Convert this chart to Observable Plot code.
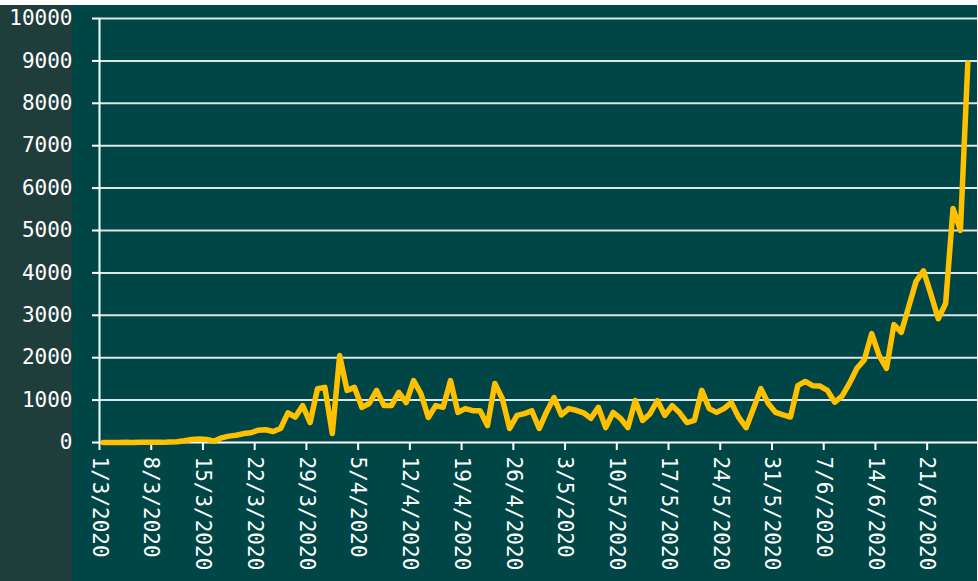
<!DOCTYPE html>
<html>
<head>
<meta charset="utf-8">
<script src="https://cdn.jsdelivr.net/npm/d3@7"></script>
<script src="https://cdn.jsdelivr.net/npm/@observablehq/plot@0.6"></script>
<style>
  html, body { margin: 0; padding: 0; background: #ffffff; }
  #wrap { position: relative; width: 978px; height: 581px; overflow: hidden; background: #ffffff; }
  #bg { position: absolute; left: 0; top: 5px; width: 977px; height: 576px;
        background: linear-gradient(to right, #1f3d3b 0px, #1f3d3b 72px, #004646 72px, #004646 977px); }
  #chart { position: absolute; left: 0; top: 0; }
</style>
</head>
<body>
<div id="wrap"><div id="bg"></div><div id="chart"></div></div>
<script>
// First day of the series (daily data)
const startDate = "2020-03-01";
// Daily new cases (1/3/2020 .. 26/6/2020)
const cases = [
  2, 0, 1, 4, 2, 5, 4, 6, 3, 10,
  20, 40, 70, 80, 70, 30, 110, 150, 170, 210,
  230, 290, 300, 260, 330, 700, 600, 870, 470, 1270,
  1300, 210, 2050, 1230, 1300, 830, 920, 1230, 870, 870,
  1180, 940, 1460, 1150, 590, 870, 830, 1460, 710, 800,
  750, 750, 400, 1390, 1040, 330, 640, 680, 750, 330,
  720, 1060, 650, 800, 760, 700, 570, 830, 350, 710,
  570, 350, 990, 520, 680, 990, 640, 870, 700, 470,
  520, 1230, 800, 710, 800, 940, 590, 350, 800, 1270,
  920, 710, 650, 600, 1340, 1440, 1340, 1330, 1230, 950,
  1100, 1400, 1750, 1950, 2570, 2050, 1750, 2780, 2600, 3200,
  3800, 4050, 3500, 2920, 3280, 5520, 5000, 8950
];
// X tick labels (weekly)
const xTickLabels = ["1/3/2020","8/3/2020","15/3/2020","22/3/2020","29/3/2020","5/4/2020","12/4/2020",
  "19/4/2020","26/4/2020","3/5/2020","10/5/2020","17/5/2020","24/5/2020","31/5/2020","7/6/2020",
  "14/6/2020","21/6/2020"];
// Y ticks
const yTicks = [0, 1000, 2000, 3000, 4000, 5000, 6000, 7000, 8000, 9000, 10000];

const parseDMY = s => { const [d, m, y] = s.split("/").map(Number); return new Date(Date.UTC(y, m - 1, d)); };
const fmtDMY = d => `${d.getUTCDate()}/${d.getUTCMonth() + 1}/${d.getUTCFullYear()}`;
const t0 = new Date(startDate + "T00:00:00Z");
// each day occupies a band; point drawn at its middle
const data = cases.map((v, i) => ({date: d3.utcHour.offset(d3.utcDay.offset(t0, i), 12), value: v}));
const xTicks = xTickLabels.map(parseDMY);
const xEnd = d3.utcDay.offset(t0, cases.length);

const font = "DejaVu Sans Mono";
const plot = Plot.plot({
  width: 978,
  height: 581,
  marginTop: 18,
  marginBottom: 139,
  marginLeft: 99,
  marginRight: 1,
  style: {background: "transparent", color: "#ffffff", fontFamily: font, fontSize: "21px", overflow: "visible"},
  x: {type: "utc", domain: [t0, xEnd], range: [99, 971]},
  y: {domain: [0, 10000]},
  marks: [
    Plot.ruleY(yTicks.filter(d => d > 0), {stroke: "#dde6e6", strokeWidth: 2}),
    Plot.axisY({ticks: yTicks, tickSize: 7, tickPadding: 20, tickFormat: d => String(d),
      stroke: "#ffffff", strokeWidth: 2, fill: "#ffffff", fontSize: 21, label: null}),
    Plot.axisX({ticks: xTicks, tickSize: 8, tickPadding: 6, tickRotate: 90, tickFormat: fmtDMY,
      stroke: "#ffffff", strokeWidth: 2, fill: "#ffffff", fontSize: 21, label: null}),
    Plot.ruleY([0], {stroke: "#ffffff", strokeWidth: 2}),
    Plot.ruleX([t0], {y1: 0, y2: 10000, stroke: "#ffffff", strokeWidth: 2}),
    Plot.line(data, {x: "date", y: "value", stroke: "#ffc000", strokeWidth: 5.5,
      strokeLinejoin: "round", strokeLinecap: "round"})
  ]
});
document.getElementById("chart").appendChild(plot);
</script>
</body>
</html>
